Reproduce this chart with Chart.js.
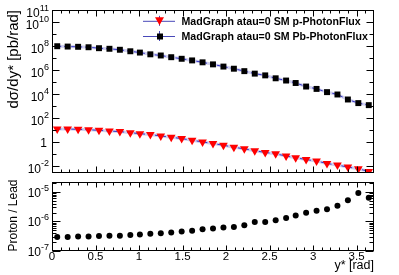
<!DOCTYPE html>
<html>
<head>
<meta charset="utf-8">
<script src="https://cdn.jsdelivr.net/npm/chart.js@4.4.1/dist/chart.umd.min.js"></script>
<style>
  html, body { margin: 0; padding: 0; background: #fff; }
  #wrap { position: relative; width: 399px; height: 275px; }
  canvas { position: absolute; left: 0; }
  #topChart { top: 0; }
  #botChart { top: 178px; }
</style>
</head>
<body>
<div id="wrap">
  <canvas id="topChart" width="399" height="178"></canvas>
  <canvas id="botChart" width="399" height="97"></canvas>
</div>
<script>
// ─── DATA ────────────────────────────────────────────────────────────────
const yStar = [0.06, 0.18, 0.30, 0.42, 0.54, 0.66, 0.78, 0.90, 1.01, 1.13,
               1.25, 1.37, 1.49, 1.61, 1.73, 1.85, 1.97, 2.09, 2.21, 2.33,
               2.45, 2.57, 2.69, 2.80, 2.92, 3.04, 3.16, 3.28, 3.40, 3.52, 3.64];

// dσ/dy* [pb/rad], Pb photon flux
const xsecPb = [9.5e7, 8.9e7, 8.5e7, 7.8e7, 6.5e7, 5.8e7, 4.8e7, 3.6e7, 2.8e7, 2.0e7,
                1.6e7, 1.15e7, 8.5e6, 6.2e6, 4.3e6, 2.9e6, 1.9e6, 1.26e6, 7.9e5, 4.9e5,
                3.5e5, 2.0e5, 1.3e5, 8.1e4, 4.1e4, 2.6e4, 1.4e4, 8.9e3, 3.4e3, 1.7e3, 1.15e3];

// dσ/dy* [pb/rad], proton photon flux
const xsecP = [11.7, 11.7, 11.0, 10.2, 9.1, 7.9, 7.1, 5.8, 4.8, 4.0,
               3.1, 2.4, 1.86, 1.35, 0.98, 0.71, 0.52, 0.35, 0.26, 0.18,
               0.13, 0.10, 0.065, 0.047, 0.033, 0.025, 0.0155, 0.0115, 0.0078, 0.0056, 0.0034];

// Proton / Lead
const ratioPL = [3.0e-7, 3.0e-7, 3.1e-7, 3.1e-7, 3.2e-7, 3.25e-7, 3.3e-7, 3.5e-7, 3.6e-7, 3.8e-7,
                 4.0e-7, 4.2e-7, 4.6e-7, 4.8e-7, 5.4e-7, 5.8e-7, 6.2e-7, 6.5e-7, 7.4e-7, 9.5e-7,
                 9.5e-7, 1.1e-6, 1.3e-6, 1.6e-6, 1.95e-6, 2.3e-6, 2.6e-6, 3.4e-6, 5.2e-6, 9.1e-6, 6.3e-6];

const legendLabels = ["MadGraph atau=0 SM p-PhotonFlux", "MadGraph atau=0 SM Pb-PhotonFlux"];
const xTickLabels  = ["0", "0.5", "1", "1.5", "2", "2.5", "3", "3.5"];
const topExpLabels = [-2, 0, 2, 4, 6, 8, 10, 11];
const botExpLabels = [-7, -6, -5];

const FONT = "'Liberation Sans', Arial, Helvetica, sans-serif";
const LINE_BLUE = "#3434c8";
const HALO = "rgba(150,150,215,0.45)";

const pts = arr => yStar.map((x, i) => ({ x, y: arr[i] }));

// ─── ROOT-LIKE FRAME, TICKS AND LABELS ───────────────────────────────────
function seg(ctx, x1, y1, x2, y2) {
  ctx.beginPath(); ctx.moveTo(x1, y1); ctx.lineTo(x2, y2); ctx.stroke();
}

function powLabel(ctx, xr, y, e, baseOff, expOff) {
  ctx.fillStyle = "#000";
  ctx.textBaseline = "alphabetic";
  if (e === 0) {
    ctx.font = "12px " + FONT;
    ctx.textAlign = "right";
    ctx.fillText("1", xr - 2, y + 5);
    return;
  }
  ctx.font = "9px " + FONT;
  const es = String(e);
  const ew = ctx.measureText(es).width;
  ctx.textAlign = "left";
  ctx.fillText(es, xr - ew, y + expOff);
  ctx.font = "12px " + FONT;
  const bw = ctx.measureText("10").width;
  ctx.fillText("10", xr - ew - bw, y + baseOff);
}

const rootFrame = {
  id: "rootFrame",
  afterDraw(chart, args, opts) {
    const { ctx, chartArea: a, scales } = chart;
    const xs = scales.x, ys = scales.y;
    const L = Math.round(a.left) + 0.5, R = Math.round(a.right) - 0.5;
    const T = Math.round(a.top) + 0.5, B = Math.round(a.bottom) - 0.5;
    ctx.save();
    ctx.strokeStyle = "#000";
    ctx.lineWidth = 1;

    // x ticks on top and bottom edges
    for (let i = 0; i <= 37; i++) {
      const px = Math.round(xs.getPixelForValue(i / 10)) + 0.5;
      if (px > R - 1) continue;
      const len = i % 5 === 0 ? opts.xMajor : opts.xMinor;
      seg(ctx, px, B, px, B - len);
      seg(ctx, px, T, px, T + len);
    }

    // y ticks on left and right edges
    if (opts.panel === "top") {
      for (let e = -2; e <= 10; e++) {
        const py = Math.round(ys.getPixelForValue(Math.pow(10, e))) + 0.5;
        const len = e % 2 === 0 ? 7 : 4;
        seg(ctx, L, py, L + len, py);
        seg(ctx, R, py, R - len, py);
      }
    } else {
      for (let e = -7; e <= -5; e++) {
        for (let m = 1; m <= 9; m++) {
          const v = m * Math.pow(10, e);
          if (v > ys.max) continue;
          const py = Math.round(ys.getPixelForValue(v)) + 0.5;
          const len = m === 1 ? 8 : 4;
          seg(ctx, L, py, L + len, py);
          seg(ctx, R, py, R - len, py);
        }
      }
    }

    ctx.strokeRect(L, T, R - L, B - T);

    // y labels
    const exps = opts.panel === "top" ? topExpLabels : botExpLabels;
    exps.forEach(e => {
      const py = ys.getPixelForValue(Math.pow(10, e));
      powLabel(ctx, 49, py, e, opts.baseOff, opts.expOff);
    });

    ctx.fillStyle = "#000";
    if (opts.panel === "top") {
      // y title
      ctx.save();
      ctx.translate(18, 10);
      ctx.rotate(-Math.PI / 2);
      ctx.font = "15px " + FONT;
      ctx.textAlign = "right";
      ctx.textBaseline = "alphabetic";
      ctx.fillText("dσ/dy* [pb/rad]", 0, 0);
      ctx.restore();

      // legend
      const rows = [20.8, 36];
      rows.forEach((ry, i) => {
        ctx.strokeStyle = "#4848b8";
        seg(ctx, 143, ry + 0.5, 175, ry + 0.5);
        seg(ctx, 159.5, ry - 5, 159.5, ry + 5);
        if (i === 0) {
          ctx.fillStyle = "#ff0000";
          ctx.beginPath();
          ctx.moveTo(155, ry - 3.5);
          ctx.lineTo(164, ry - 3.5);
          ctx.lineTo(159.5, ry + 4.5);
          ctx.closePath();
          ctx.fill();
        } else {
          ctx.fillStyle = "#000";
          ctx.fillRect(157, ry - 2.5, 6, 6);
        }
        ctx.fillStyle = "#000";
        ctx.font = "bold 10.6px " + FONT;
        ctx.textAlign = "left";
        ctx.textBaseline = "alphabetic";
        ctx.fillText(legendLabels[i], 181.5, ry + 4.2);
      });
    } else {
      // y title
      ctx.save();
      ctx.translate(17, (a.top + a.bottom) / 2 - 1);
      ctx.rotate(-Math.PI / 2);
      ctx.font = "12px " + FONT;
      ctx.textAlign = "center";
      ctx.textBaseline = "alphabetic";
      ctx.fillText("Proton / Lead", 0, 0);
      ctx.restore();

      // x labels
      ctx.font = "11.5px " + FONT;
      ctx.textAlign = "center";
      ctx.textBaseline = "alphabetic";
      xTickLabels.forEach(t => {
        ctx.fillText(t, xs.getPixelForValue(parseFloat(t)), a.bottom + 9);
      });

      // x title
      ctx.font = "12.5px " + FONT;
      ctx.textAlign = "right";
      ctx.fillText("y* [rad]", a.right, a.bottom + 18);
    }
    ctx.restore();
  }
};

const baseOptions = (pad, ymin, ymax, frameOpts) => ({
  responsive: false,
  animation: false,
  events: [],
  layout: { padding: pad },
  plugins: {
    legend: { display: false },
    tooltip: { enabled: false },
    rootFrame: frameOpts
  },
  scales: {
    x: { type: "linear", min: 0, max: 3.7, display: false },
    y: { type: "logarithmic", min: ymin, max: ymax, display: false }
  }
});

// ─── TOP PANEL: cross sections ───────────────────────────────────────────
new Chart(document.getElementById("topChart"), {
  type: "line",
  data: {
    datasets: [
      {
        label: legendLabels[0],
        data: pts(xsecP),
        borderColor: LINE_BLUE,
        borderWidth: 1,
        borderDash: [4, 3],
        pointStyle: "triangle",
        pointRotation: 180,
        pointRadius: 5,
        pointBackgroundColor: "#ff0000",
        pointBorderColor: "#ff0000",
        pointBorderWidth: 0,
        order: 1
      },
      {
        label: legendLabels[1],
        data: pts(xsecPb),
        borderColor: LINE_BLUE,
        borderWidth: 1,
        borderDash: [4, 3],
        pointStyle: "rect",
        pointRadius: 4.2,
        pointBackgroundColor: "#000",
        pointBorderColor: "#000",
        pointBorderWidth: 0,
        order: 1
      },
      { data: pts(xsecP), borderColor: HALO, borderWidth: 3, pointRadius: 0, order: 2 },
      { data: pts(xsecPb), borderColor: HALO, borderWidth: 3, pointRadius: 0, order: 2 }
    ]
  },
  options: baseOptions({ left: 52, right: 25, top: 10, bottom: 3 }, 0.0025, 1e11,
    { panel: "top", xMajor: 6, xMinor: 3, baseOff: 7, expOff: 0.5 }),
  plugins: [rootFrame]
});

// ─── BOTTOM PANEL: ratio ─────────────────────────────────────────────────
new Chart(document.getElementById("botChart"), {
  type: "line",
  data: {
    datasets: [{
      label: "Proton / Lead",
      data: pts(ratioPL),
      showLine: false,
      pointStyle: "circle",
      pointRadius: 3,
      pointBackgroundColor: "#000",
      pointBorderColor: "#000",
      pointBorderWidth: 0
    }]
  },
  options: baseOptions({ left: 52, right: 25, top: 3, bottom: 24 }, 1e-7, 2.15e-5,
    { panel: "bottom", xMajor: 5, xMinor: 3, baseOff: 5, expOff: -1 }),
  plugins: [rootFrame]
});
</script>
</body>
</html>
